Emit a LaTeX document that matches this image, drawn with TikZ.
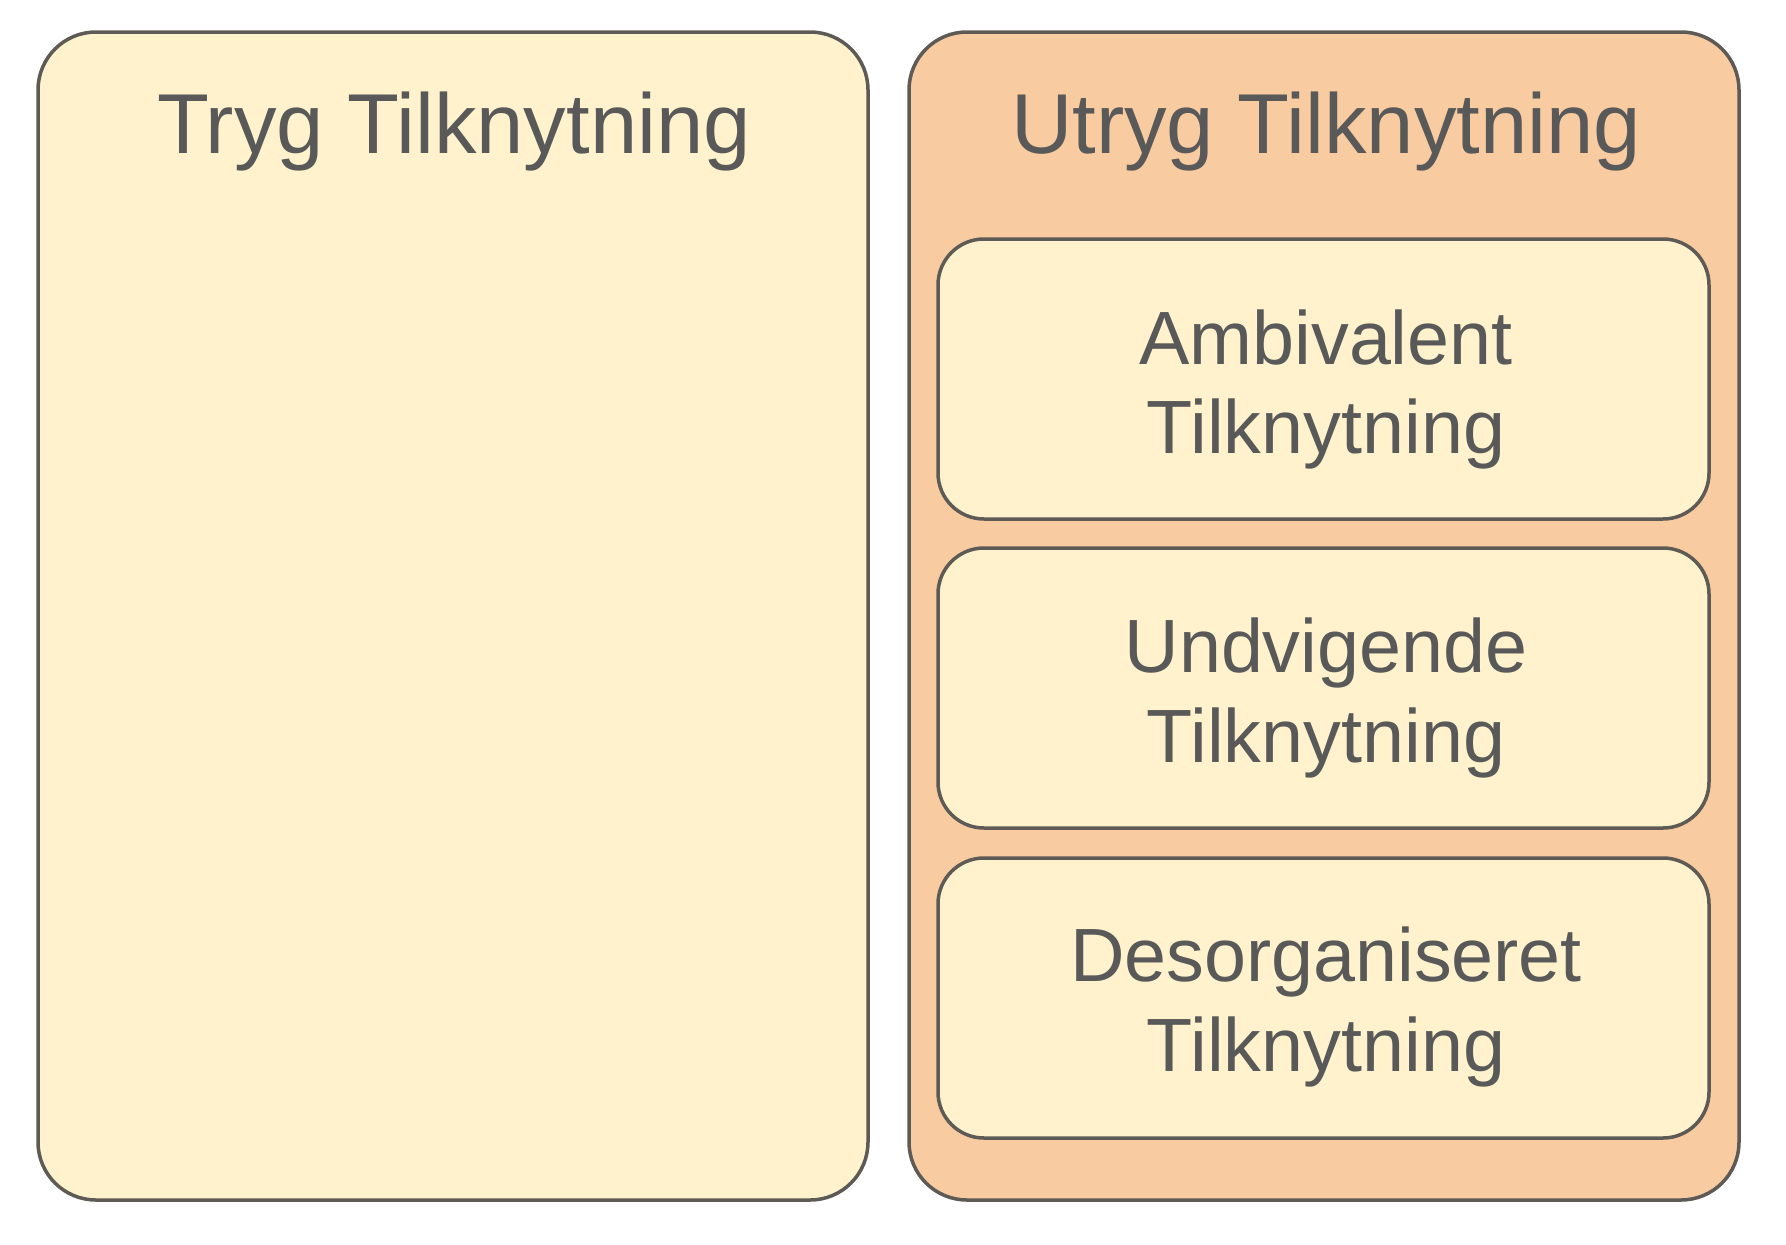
\documentclass[tikz,border=0pt]{standalone}
\usepackage{fontspec}
\setmainfont{Liberation Sans}
\definecolor{strokegray}{HTML}{5E5A56}
\definecolor{textgray}{HTML}{595959}
\definecolor{lightfill}{HTML}{FFF2CC}
\definecolor{orangefill}{HTML}{F8CBA0}
\tikzset{
  outerbox/.style={draw=strokegray, line width=3.5pt, rounded corners=58pt},
  innerbox/.style={draw=strokegray, line width=3.5pt, rounded corners=46pt, fill=lightfill},
  titletext/.style={anchor=base, text=textgray, inner sep=0pt, font=\fontsize{85}{99}\selectfont},
  subtext/.style={anchor=base, text=textgray, inner sep=0pt, font=\fontsize{75.5}{89}\selectfont},
}
\begin{document}
\begin{tikzpicture}[x=1pt,y=-1pt]
\useasboundingbox (0,0) rectangle (1786,1245);
% outer boxes
\draw[outerbox, fill=lightfill] (38,32) rectangle (868,1200);
\draw[outerbox, fill=orangefill] (909,32) rectangle (1739,1200);
\node[titletext] (tryg) at (454,153) {Tryg Tilknytning};
\node[titletext] (utryg) at (1326,153) {Utryg Tilknytning};
% inner boxes
\draw[innerbox] (938,239) rectangle (1709,519);
\draw[innerbox] (938,548) rectangle (1709,828);
\draw[innerbox] (938,858) rectangle (1709,1138);
\node[subtext] (amb1) at (1326,364) {Ambivalent};
\node[subtext] (amb2) at (1326,453) {Tilknytning};
\node[subtext] (und1) at (1326,672) {Undvigende};
\node[subtext] (und2) at (1326,762) {Tilknytning};
\node[subtext] (des1) at (1326,981) {Desorganiseret};
\node[subtext] (des2) at (1326,1071) {Tilknytning};
\end{tikzpicture}
\end{document}
